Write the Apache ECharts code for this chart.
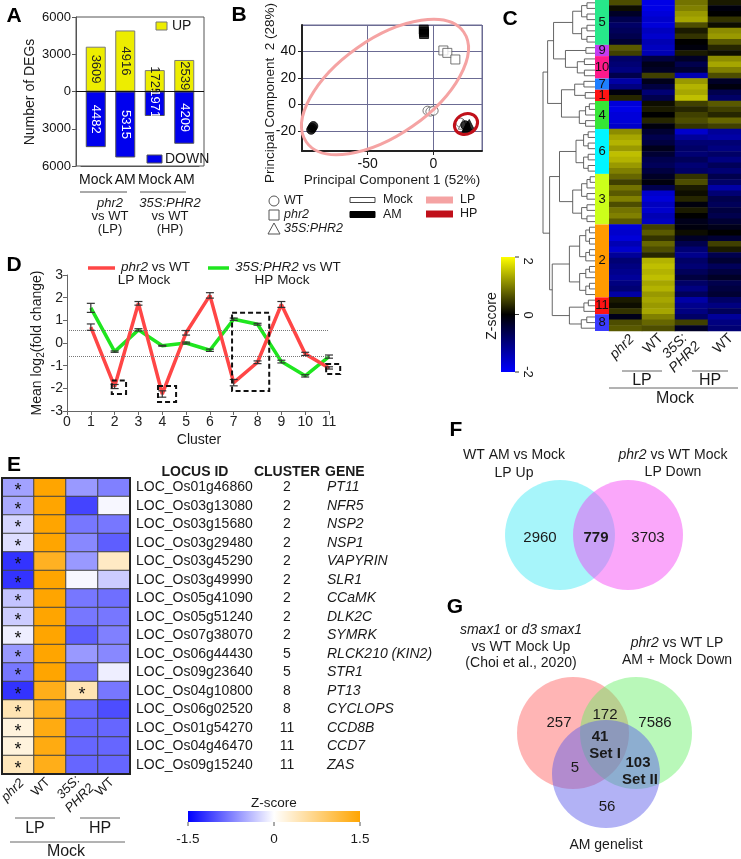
<!DOCTYPE html>
<html>
<head>
<meta charset="utf-8">
<script src="https://cdn.jsdelivr.net/npm/echarts@6.0.0/dist/echarts.min.js"></script>
<style>
html,body{margin:0;padding:0;background:#ffffff;}
#chart{width:741px;height:859px;}
</style>
</head>
<body>
<div id="chart"></div>
<script>
// ===== Panel A: number of DEGs =====
const degCategories = ['Mock', 'AM', 'Mock', 'AM'];
const degUp = [3609, 4916, 1725, 2539];
const degDown = [4482, 5315, 1971, 4209];

// ===== Panel B: PCA (PC1, PC2) =====
const pcaWTMock = [[-4.5, -4.6], [-2.3, -5.3], [0.2, -4.6], [20.5, -13.6]];
const pcaPhr2Mock = [[7.6, 40.8], [10.6, 39.0], [16.7, 34.0]];
const pcaOxMock = [[22.8, -14.8]];
const pcaWTAM = [[-93.0, -19.0], [-92.2, -17.6], [-91.4, -16.2], [24.3, -15.6]];
const pcaPhr2AM = [[-7.3, 56.5], [-7.2, 54.8], [-7.1, 53.2]];
const pcaOxAM = [[26.0, -16.6], [27.3, -15.0], [25.2, -17.6]];

// ===== Panel C: clustered heatmap (phr2 LP, WT LP, 35S:PHR2 HP, WT HP) =====
const clusterOrder = [5, 9, 10, 7, 1, 4, 6, 3, 2, 11, 8];
const clusterColor = ['#27e88a', '#c43cf2', '#ff1a8c', '#1e7fff', '#ff1414', '#36e636', '#00f6ff', '#ccff1a', '#ff9a00', '#ff1414', '#3b3bff'];
const clusterTopH = [0.55, 0.35, 0.48, 0.38, 0.36, 0.45, 0.50, 0.55, 0.60, 0.38, 0.42];
const hmC5 = [[0.6,-1.8,0.9,0.2],[0.1,-1.8,1.0,-0.1],[-0.3,-1.7,1.2,0.0],[-0.6,-1.6,1.3,0.4],[-0.8,-1.7,0.6,0.1],[-0.7,-1.5,0.2,1.1],[-0.6,-1.6,0.4,1.2],[-0.4,-1.4,0.0,0.7]];
const hmC9 = [[0.7,-1.5,-0.1,0.3],[0.5,-1.4,0.2,0.1]];
const hmC10 = [[-0.8,-0.5,-0.3,1.1],[-0.9,-0.2,-0.6,1.3],[-1.0,-0.3,-0.4,1.0],[-0.6,0.5,-1.4,0.6]];
const hmC7 = [[-1.3,-0.2,1.2,-0.3],[-1.0,-0.5,1.4,-0.1]];
const hmC1 = [[-0.1,-0.9,1.3,-0.6],[0.3,-0.6,1.5,-0.8]];
const hmC4 = [[-1.7,0.1,0.5,0.7],[-1.8,0.2,0.3,0.5],[-1.7,0.0,0.5,0.3],[-1.7,0.3,0.6,0.8],[-1.6,-0.1,0.4,0.5]];
const hmC6 = [[1.1,-0.4,-1.6,-1.2],[1.3,-0.6,-1.2,-1.3],[1.4,-0.5,-0.9,-0.9],[1.2,-0.2,-0.8,-1.0],[1.5,-0.4,-0.9,-0.8],[1.4,-0.6,-0.7,-1.0],[1.2,-0.7,-0.9,-0.7],[1.0,-0.5,-0.8,-0.9]];
const hmC3 = [[0.8,-0.3,0.4,-0.6],[0.5,-0.1,0.6,-0.8],[0.9,-0.6,0.2,-1.3],[0.7,-1.6,0.1,-0.9],[1.0,-1.7,0.3,-0.6],[0.6,-1.5,-0.1,-0.7],[0.9,-1.6,0.2,-0.5],[1.0,-1.4,0.0,-0.6],[0.7,-1.5,-0.2,-0.4]];
const hmC2 = [[-1.7,0.5,-0.1,-0.2],[-1.6,0.7,0.1,0.0],[-1.7,0.4,-0.3,-0.4],[-1.4,0.8,-0.6,0.5],[-1.6,0.6,-0.9,0.2],[-1.2,0.3,-1.1,-0.6],[-0.9,1.4,-0.8,-0.4],[-1.0,1.5,-0.9,-0.7],[-1.1,1.4,-0.7,-0.5],[-1.2,1.5,-0.5,-0.3],[-1.0,1.3,-0.8,-0.6],[-0.9,1.4,-1.0,-0.5],[-1.3,1.2,-0.7,-0.4]];
const hmC11 = [[0.2,1.3,-1.3,-0.8],[0.1,1.2,-1.1,-1.0],[0.4,1.3,-1.0,-0.7]];
const hmC8 = [[-0.2,1.0,-0.8,-1.2],[0.6,0.8,0.5,-1.0],[0.7,0.6,-0.3,-0.9]];
const hmClusterRows = [hmC5, hmC9, hmC10, hmC7, hmC1, hmC4, hmC6, hmC3, hmC2, hmC11, hmC8];
// dendrogram topology between clusters: [height, left, right]
const dendroTopology = [1.0, [0.93, [0.84, 5, [0.66, 9, 10]], [0.72, [0.52, 7, 1], 4]], [0.9, [0.75, 6, 3], [0.86, 2, [0.6, 11, 8]]]];

// ===== Panel D: mean log2 fold change per cluster =====
const dClusters = [1, 2, 3, 4, 5, 6, 7, 8, 9, 10, 11];
const dPhr2 = [0.70, -1.92, 1.75, -2.25, 0.45, 2.10, -1.75, -0.85, 1.70, -0.48, -1.10];
const dPhr2Err = [0.14, 0.09, 0.08, 0.14, 0.10, 0.12, 0.14, 0.06, 0.13, 0.07, 0.05];
const dOx = [1.55, -0.38, 0.58, -0.12, 0.00, -0.32, 1.05, 0.83, -0.82, -1.45, -0.60];
const dOxErr = [0.20, 0.03, 0.05, 0.02, 0.04, 0.05, 0.05, 0.04, 0.06, 0.05, 0.07];
const dThresholds = [0.585, -0.585];
const dBoxes = [[1.88, -1.65, 2.48, -2.25], [3.82, -1.90, 4.58, -2.60], [6.93, 1.33, 8.49, -2.12], [10.88, -0.93, 11.47, -1.37]];

// ===== Panel E: symbiosis genes =====
const eLocus = ['LOC_Os01g46860','LOC_Os03g13080','LOC_Os03g15680','LOC_Os03g29480','LOC_Os03g45290','LOC_Os03g49990','LOC_Os05g41090','LOC_Os05g51240','LOC_Os07g38070','LOC_Os06g44430','LOC_Os09g23640','LOC_Os04g10800','LOC_Os06g02520','LOC_Os01g54270','LOC_Os04g46470','LOC_Os09g15240'];
const eCluster = [2, 2, 2, 2, 2, 2, 2, 2, 2, 5, 5, 8, 8, 11, 11, 11];
const eGene = ['PT11','NFR5','NSP2','NSP1','VAPYRIN','SLR1','CCaMK','DLK2C','SYMRK','RLCK210 (KIN2)','STR1','PT13','CYCLOPS','CCD8B','CCD7','ZAS'];
const eZphr2 = [-0.55, -0.50, -0.25, -0.20, -1.20, -1.20, -0.35, -0.30, -0.10, -0.60, -0.80, -1.20, 0.45, 0.20, 0.20, 0.40];
const eZwtLP = [1.50, 1.50, 1.50, 1.50, 1.30, 1.50, 1.50, 1.50, 1.50, 1.50, 1.50, 1.35, 1.35, 1.40, 1.40, 1.35];
const eZox = [-0.60, -1.10, -0.80, -0.70, -0.60, -0.05, -0.80, -0.80, -0.95, -0.60, -0.80, 0.45, -0.90, -0.90, -0.90, -0.90];
const eZwtHP = [-0.75, -0.05, -0.80, -0.95, 0.35, -0.30, -0.85, -0.80, -0.75, -0.70, -0.10, -0.80, -1.05, -0.90, -0.90, -0.90];
const eStarPhr2 = [1, 1, 1, 1, 1, 1, 1, 1, 1, 1, 1, 1, 1, 1, 1, 1];
const eStarOx = [0, 0, 0, 0, 0, 0, 0, 0, 0, 0, 0, 1, 0, 0, 0, 0];

// ===== Panels F, G: Venn counts =====
const vennF = [2960, 779, 3703];
const vennG = { smaxOnly: 257, smaxPhr2: 172, phr2Only: 7586, all3: 41, smaxAM: 5, phr2AM: 103, amOnly: 56 };

// ----------------------------------------------------------------
const FF = '"Liberation Sans", Arial, Helvetica, sans-serif';
const TXT = '#1a1a1a';

function richSet(size) {
  return {
    i: { fontStyle: 'italic', fontSize: size, fontFamily: FF, fill: TXT },
    b: { fontWeight: 'bold', fontSize: size, fontFamily: FF, fill: TXT },
    n: { fontSize: size, fontFamily: FF, fill: TXT },
    s: { fontSize: Math.round(size * 0.68), fontFamily: FF, fill: TXT, padding: [8, 0, 0, 0] }
  };
}
function T(x, y, text, o) {
  o = o || {};
  const size = o.size || 14;
  return {
    type: 'text', x: x, y: y, rotation: o.rot || 0, z: 100, silent: true,
    style: {
      text: text, fill: o.color || TXT, fontSize: size, fontFamily: FF,
      fontWeight: o.bold ? 'bold' : 'normal', fontStyle: o.italic ? 'italic' : 'normal',
      align: o.align || 'center', verticalAlign: o.va || 'middle',
      textAlign: o.align || 'center', textVerticalAlign: o.va || 'middle',
      rich: richSet(size)
    }
  };
}
function L(x1, y1, x2, y2, color, w) {
  return { type: 'line', z: 100, silent: true, shape: { x1: x1, y1: y1, x2: x2, y2: y2 }, style: { stroke: color || '#555', lineWidth: w || 1 } };
}
function R(x, y, w, h, fill, stroke, lw, z) {
  return { type: 'rect', z: z || 100, silent: true, shape: { x: x, y: y, width: w, height: h }, style: { fill: fill || 'none', stroke: stroke || 'none', lineWidth: lw || 1 } };
}
function CIRC(cx, cy, r, fill, z) {
  return { type: 'circle', z: z || 1, silent: true, shape: { cx: cx, cy: cy, r: r }, style: { fill: fill } };
}

// ---- Build heatmap C data and dendrogram ----
const LEAF_H = 14 / 66;
const hmCData = [];
const clusterRange = [];
let rowCursor = 0;
hmClusterRows.forEach(function (rows, k) {
  const lo = rowCursor;
  rows.forEach(function (r) {
    r.forEach(function (v, c) { hmCData.push([c, rowCursor, v]); });
    rowCursor++;
  });
  clusterRange.push([LEAF_H, lo, rowCursor - 1, k]);
});
const hmCRowsLabels = [];
for (let i = 0; i < rowCursor; i++) hmCRowsLabels.push(String(i));

const dendroLinks = [];
function buildSub(lo, hi, top) {
  if (lo === hi) return { y: lo, h: LEAF_H };
  const mid = Math.floor((lo + hi) / 2);
  const childTop = LEAF_H + (top - LEAF_H) * 0.6;
  const a = buildSub(lo, mid, childTop), b = buildSub(mid + 1, hi, childTop);
  dendroLinks.push([top, a.y, b.y, a.h, b.h]);
  return { y: (a.y + b.y) / 2, h: top };
}
function walk(node) {
  if (typeof node === 'number') {
    const k = clusterOrder.indexOf(node);
    const rg = clusterRange[k];
    return buildSub(rg[1], rg[2], clusterTopH[k]);
  }
  const a = walk(node[1]), b = walk(node[2]);
  dendroLinks.push([node[0], a.y, b.y, a.h, b.h]);
  return { y: (a.y + b.y) / 2, h: node[0] };
}
walk(dendroTopology);

// ---- Heatmap E data ----
const eCols = [eZphr2, eZwtLP, eZox, eZwtHP];
const hmEData = [];
eLocus.forEach(function (_, r) { eCols.forEach(function (col, c) { hmEData.push([c, r, col[r]]); }); });
const eRowLabels = eLocus.map(function (_, i) { return String(i); });

// ---- Series ----
const series = [];
// A
series.push({
  type: 'bar', name: 'UP', xAxisIndex: 0, yAxisIndex: 0, data: degUp, barWidth: 20, barGap: '-100%',
  itemStyle: { color: '#eded00', borderColor: '#7a7a7a', borderWidth: 1 },
  label: { show: true, position: 'inside', rotate: -90, color: '#222', fontSize: 13, fontFamily: FF }
});
series.push({
  type: 'bar', name: 'DOWN', xAxisIndex: 0, yAxisIndex: 0, data: degDown.map(function (v) { return -v; }), barWidth: 20, barGap: '-100%',
  itemStyle: { color: '#0000ee', borderColor: '#555', borderWidth: 1 },
  label: { show: true, position: 'inside', rotate: -90, color: '#fff', fontSize: 13, fontFamily: FF, formatter: function (p) { return String(-p.value); } }
});
// B
function sc(data, symbol, filled) {
  return {
    type: 'scatter', xAxisIndex: 1, yAxisIndex: 1, data: data, symbol: symbol, symbolSize: symbol === 'triangle' ? 10 : 9,
    itemStyle: filled ? { color: '#000', borderColor: '#000', borderWidth: 1 } : { color: '#fff', borderColor: '#555', borderWidth: 1 }
  };
}
series.push(sc(pcaWTMock, 'circle', false));
series.push(sc(pcaPhr2Mock, 'rect', false));
series.push(sc(pcaOxMock, 'triangle', false));
series.push(sc(pcaWTAM, 'circle', true));
series.push(sc(pcaPhr2AM, 'rect', true));
series.push(sc(pcaOxAM, 'triangle', true));
// C heatmap
const idxHeatC = series.length;
series.push({ type: 'heatmap', xAxisIndex: 2, yAxisIndex: 2, data: hmCData, progressive: 0, itemStyle: { borderWidth: 0 } });
// C dendrogram
series.push({
  type: 'custom', xAxisIndex: 3, yAxisIndex: 3, data: dendroLinks, silent: true,
  renderItem: function (params, api) {
    const h = api.value(0), y1 = api.value(1), y2 = api.value(2), h1 = api.value(3), h2 = api.value(4);
    const a = api.coord([h1, y1]), b = api.coord([h, y1]), c = api.coord([h, y2]), d = api.coord([h2, y2]);
    return { type: 'polyline', shape: { points: [a, b, c, d] }, style: { stroke: '#555', lineWidth: 0.9, fill: 'none' } };
  }
});
// C cluster strip
series.push({
  type: 'custom', xAxisIndex: 3, yAxisIndex: 3, data: clusterRange, silent: true,
  renderItem: function (params, api) {
    const lo = api.value(1), hi = api.value(2), k = api.value(3);
    const p0 = api.coord([LEAF_H, lo - 0.5]), p1 = api.coord([0, hi + 0.5]);
    return {
      type: 'group', children: [
        { type: 'rect', shape: { x: p0[0], y: p0[1], width: p1[0] - p0[0], height: p1[1] - p0[1] }, style: { fill: clusterColor[k] } },
        { type: 'text', x: (p0[0] + p1[0]) / 2, y: (p0[1] + p1[1]) / 2, style: { text: String(clusterOrder[k]), fill: '#111', fontSize: 13, fontFamily: FF, align: 'center', verticalAlign: 'middle' } }
      ]
    };
  }
});
// D lines
series.push({
  type: 'line', xAxisIndex: 4, yAxisIndex: 4, data: dClusters.map(function (c, i) { return [c, dOx[i]]; }),
  symbol: 'none', lineStyle: { color: '#1fe61f', width: 3.5 }, z: 3
});
series.push({
  type: 'line', xAxisIndex: 4, yAxisIndex: 4, data: dClusters.map(function (c, i) { return [c, dPhr2[i]]; }),
  symbol: 'none', lineStyle: { color: '#ff4646', width: 3.5 }, z: 4,
  markLine: {
    silent: true, symbol: ['none', 'none'], label: { show: false },
    lineStyle: { type: 'dotted', color: '#777', width: 1 },
    data: dThresholds.map(function (t) { return { yAxis: t }; })
  }
});
// D error bars
const errData = [];
dClusters.forEach(function (c, i) {
  errData.push([c, dPhr2[i] - dPhr2Err[i], dPhr2[i] + dPhr2Err[i]]);
  errData.push([c, dOx[i] - dOxErr[i], dOx[i] + dOxErr[i]]);
});
series.push({
  type: 'custom', xAxisIndex: 4, yAxisIndex: 4, data: errData, silent: true, z: 6,
  renderItem: function (params, api) {
    const lo = api.coord([api.value(0), api.value(1)]), hi = api.coord([api.value(0), api.value(2)]);
    const w = 4;
    return {
      type: 'group', children: [
        { type: 'line', shape: { x1: lo[0], y1: lo[1], x2: hi[0], y2: hi[1] }, style: { stroke: '#333', lineWidth: 1.2 } },
        { type: 'line', shape: { x1: lo[0] - w, y1: lo[1], x2: lo[0] + w, y2: lo[1] }, style: { stroke: '#333', lineWidth: 1.2 } },
        { type: 'line', shape: { x1: hi[0] - w, y1: hi[1], x2: hi[0] + w, y2: hi[1] }, style: { stroke: '#333', lineWidth: 1.2 } }
      ]
    };
  }
});
// D dashed boxes
series.push({
  type: 'custom', xAxisIndex: 4, yAxisIndex: 4, data: dBoxes, silent: true, z: 7, clip: false,
  renderItem: function (params, api) {
    const a = api.coord([api.value(0), api.value(1)]), b = api.coord([api.value(2), api.value(3)]);
    return { type: 'rect', shape: { x: a[0], y: a[1], width: b[0] - a[0], height: b[1] - a[1] }, style: { fill: 'none', stroke: '#111', lineWidth: 2, lineDash: [5, 3] } };
  }
});
// E heatmap
const idxHeatE = series.length;
series.push({
  type: 'heatmap', xAxisIndex: 5, yAxisIndex: 5, data: hmEData, progressive: 0,
  itemStyle: { borderColor: '#444', borderWidth: 1 },
  label: {
    show: true, color: '#111', fontSize: 18, fontFamily: FF, offset: [0, 4],
    formatter: function (p) {
      const c = p.value[0], r = p.value[1];
      if (c === 0 && eStarPhr2[r]) return '*';
      if (c === 2 && eStarOx[r]) return '*';
      return '';
    }
  }
});

// ---- Graphic elements ----
const g = [];
// panel letters
[['A', 14, 16], ['B', 239, 15], ['C', 510, 19], ['D', 14, 265], ['E', 14, 465], ['F', 456, 430], ['G', 455, 607]].forEach(function (p) {
  g.push(T(p[1], p[2], p[0], { size: 21, bold: true, color: '#000' }));
});
// A
g.push(R(76, 17, 128, 149, 'none', '#555', 1));
g.push(L(76, 91.5, 204, 91.5, '#111', 1));
g.push(R(156, 22, 11, 8, '#eded00', '#777', 1));
g.push(T(172, 26, 'UP', { align: 'left', size: 14 }));
g.push(R(147, 155, 15, 8, '#0000ee', '#555', 1));
g.push(T(165, 159, 'DOWN', { align: 'left', size: 14 }));
g.push(T(30, 92, 'Number of DEGs', { rot: Math.PI / 2, size: 14 }));
g.push(L(80, 192, 127, 192, '#555'));
g.push(L(140, 192, 186, 192, '#555'));
g.push(T(110, 203, 'phr2', { italic: true, size: 13 }));
g.push(T(110, 216, 'vs WT', { size: 13 }));
g.push(T(110, 229, '(LP)', { size: 13 }));
g.push(T(170, 203, '35S:PHR2', { italic: true, size: 13 }));
g.push(T(170, 216, 'vs WT', { size: 13 }));
g.push(T(170, 229, '(HP)', { size: 13 }));
// B
g.push({ type: 'ellipse', x: 385, y: 87, rotation: 0.61, z: 50, silent: true, shape: { cx: 0, cy: 0, rx: 96, ry: 48 }, style: { fill: 'none', stroke: '#f5a3a3', lineWidth: 3 } });
g.push({ type: 'ellipse', x: 466, y: 124, rotation: 0.5, z: 50, silent: true, shape: { cx: 0, cy: 0, rx: 12, ry: 10 }, style: { fill: 'none', stroke: '#c0101a', lineWidth: 3 } });
g.push(T(392, 180, 'Principal Component 1 (52%)', { size: 13.5 }));
g.push(T(270, 93, 'Principal Component  2 (28%)', { rot: Math.PI / 2, size: 13.5 }));
g.push({ type: 'circle', z: 100, silent: true, shape: { cx: 274, cy: 201, r: 5 }, style: { fill: '#fff', stroke: '#555', lineWidth: 1 } });
g.push(T(284, 201, 'WT', { align: 'left', size: 12.5 }));
g.push(R(269, 210, 10, 10, '#fff', '#555', 1));
g.push(T(284, 215, 'phr2', { align: 'left', italic: true, size: 12.5 }));
g.push({ type: 'polygon', z: 100, silent: true, shape: { points: [[274, 223], [268, 234], [280, 234]] }, style: { fill: '#fff', stroke: '#555', lineWidth: 1 } });
g.push(T(284, 229, '35S:PHR2', { align: 'left', italic: true, size: 12.5 }));
g.push(R(350, 197.5, 25, 5, '#fff', '#444', 1));
g.push(T(383, 200, 'Mock', { align: 'left', size: 12.5 }));
g.push(R(350, 211.5, 25, 6, '#000', '#000', 1));
g.push(T(383, 215, 'AM', { align: 'left', size: 12.5 }));
g.push(R(426, 196.5, 27, 7, '#f5a3a3', 'none', 1));
g.push(T(460, 200, 'LP', { align: 'left', size: 12.5 }));
g.push(R(426, 210.5, 27, 7, '#c0101a', 'none', 1));
g.push(T(460, 214, 'HP', { align: 'left', size: 12.5 }));
// C colour bar
g.push({ type: 'rect', z: 100, silent: true, shape: { x: 501, y: 257, width: 14, height: 115 },
  style: { fill: { type: 'linear', x: 0, y: 0, x2: 0, y2: 1, colorStops: [{ offset: 0, color: '#ffff00' }, { offset: 0.5, color: '#000000' }, { offset: 1, color: '#0000ff' }] } } });
g.push(L(515, 257, 519, 257, '#333'));
g.push(L(515, 314.5, 519, 314.5, '#333'));
g.push(L(515, 372, 519, 372, '#333'));
g.push(T(528, 261, '2', { rot: -Math.PI / 2, size: 13 }));
g.push(T(528, 315, '0', { rot: -Math.PI / 2, size: 13 }));
g.push(T(528, 372, '-2', { rot: -Math.PI / 2, size: 13 }));
g.push(T(492, 316, 'Z-score', { rot: Math.PI / 2, size: 14 }));
// C column labels
const rot45 = Math.PI / 4;
g.push(T(632, 337, 'phr2', { rot: rot45, align: 'right', italic: true, size: 14 }));
g.push(T(661, 336, 'WT', { rot: rot45, align: 'right', size: 14 }));
g.push(T(685, 336, '35S:', { rot: rot45, align: 'right', italic: true, size: 14 }));
g.push(T(698, 344, 'PHR2', { rot: rot45, align: 'right', italic: true, size: 14 }));
g.push(T(731, 336, 'WT', { rot: rot45, align: 'right', size: 14 }));
g.push(L(622, 371, 662, 371, '#666'));
g.push(L(692, 371, 728, 371, '#666'));
g.push(L(609, 388, 738, 388, '#666'));
g.push(T(642, 381, 'LP', { size: 16 }));
g.push(T(710, 381, 'HP', { size: 16 }));
g.push(T(675, 399, 'Mock', { size: 16 }));
// D legend and titles
g.push(L(88, 268, 115, 268, '#ff4646', 3.5));
g.push(T(121, 267, '{i|phr2} vs WT', { align: 'left', size: 13.5 }));
g.push(T(144, 280, 'LP Mock', { size: 13.5 }));
g.push(L(208, 268, 229, 268, '#1fe61f', 3.5));
g.push(T(235, 267, '{i|35S:PHR2} vs WT', { align: 'left', size: 13.5 }));
g.push(T(282, 280, 'HP Mock', { size: 13.5 }));
g.push(T(37, 343, 'Mean log{s|2}(fold change)', { rot: Math.PI / 2, size: 14 }));
g.push(T(199, 440, 'Cluster', { size: 14 }));
// E
g.push(R(2, 478, 128, 296, 'none', '#222', 2, 120));
g.push(T(195, 472, 'LOCUS ID', { bold: true, size: 14 }));
g.push(T(287, 472, 'CLUSTER', { bold: true, size: 14 }));
g.push(T(325, 472, 'GENE', { bold: true, size: 14, align: 'left' }));
g.push(T(22, 781, 'phr2', { rot: rot45, align: 'right', italic: true, size: 13 }));
g.push(T(48, 780, 'WT', { rot: rot45, align: 'right', size: 13 }));
g.push(T(78, 778, '35S:', { rot: rot45, align: 'right', italic: true, size: 13 }));
g.push(T(92, 786, 'PHR2', { rot: rot45, align: 'right', italic: true, size: 13 }));
g.push(T(112, 780, 'WT', { rot: rot45, align: 'right', size: 13 }));
g.push(L(15, 818, 55, 818, '#666'));
g.push(L(80, 818, 120, 818, '#666'));
g.push(L(10, 842, 125, 842, '#666'));
g.push(T(35, 829, 'LP', { size: 16 }));
g.push(T(100, 829, 'HP', { size: 16 }));
g.push(T(66, 852, 'Mock', { size: 16 }));
g.push({ type: 'rect', z: 100, silent: true, shape: { x: 188, y: 811, width: 172, height: 11 },
  style: { fill: { type: 'linear', x: 0, y: 0, x2: 1, y2: 0, colorStops: [{ offset: 0, color: '#0000ff' }, { offset: 0.5, color: '#ffffff' }, { offset: 1, color: '#ffa500' }] } } });
g.push(L(188, 822, 188, 826, '#555'));
g.push(L(274, 822, 274, 826, '#555'));
g.push(L(360, 822, 360, 826, '#555'));
g.push(T(274, 803, 'Z-score', { size: 13.5 }));
g.push(T(188, 839, '-1.5', { size: 13.5 }));
g.push(T(274, 839, '0', { size: 13.5 }));
g.push(T(360, 839, '1.5', { size: 13.5 }));
// F
g.push(CIRC(560, 535, 55, 'rgba(60,232,244,0.45)', 1));
g.push(CIRC(628, 535, 55, 'rgba(245,60,245,0.45)', 2));
g.push(T(514, 455, 'WT AM vs Mock', { size: 14 }));
g.push(T(514, 473, 'LP Up', { size: 14 }));
g.push(T(673, 455, '{i|phr2} vs WT Mock', { size: 14 }));
g.push(T(673, 472, 'LP Down', { size: 14 }));
g.push(T(540, 538, String(vennF[0]), { size: 15 }));
g.push(T(596, 538, String(vennF[1]), { size: 15, bold: true }));
g.push(T(648, 538, String(vennF[2]), { size: 15 }));
// G
g.push(CIRC(573, 733, 56, 'rgba(255,90,90,0.45)', 1));
g.push(CIRC(636, 733, 56, 'rgba(100,240,100,0.45)', 2));
g.push(CIRC(606, 774, 54, 'rgba(95,95,235,0.48)', 3));
g.push(T(521, 630, '{i|smax1} or {i|d3 smax1}', { size: 14 }));
g.push(T(521, 647, 'vs WT Mock Up', { size: 14 }));
g.push(T(521, 663, '(Choi et al., 2020)', { size: 14 }));
g.push(T(677, 643, '{i|phr2} vs WT LP', { size: 14 }));
g.push(T(677, 660, 'AM + Mock Down', { size: 14 }));
g.push(T(559, 723, String(vennG.smaxOnly), { size: 15 }));
g.push(T(605, 715, String(vennG.smaxPhr2), { size: 15 }));
g.push(T(655, 723, String(vennG.phr2Only), { size: 15 }));
g.push(T(600, 737, String(vennG.all3), { size: 15, bold: true }));
g.push(T(605, 754, 'Set I', { size: 15, bold: true }));
g.push(T(575, 768, String(vennG.smaxAM), { size: 15 }));
g.push(T(638, 763, String(vennG.phr2AM), { size: 15, bold: true }));
g.push(T(640, 780, 'Set II', { size: 15, bold: true }));
g.push(T(607, 807, String(vennG.amOnly), { size: 15 }));
g.push(T(606, 845, 'AM genelist', { size: 14 }));

// ---- Axes ----
const hidden = { show: false };
const option = {
  animation: false,
  backgroundColor: '#ffffff',
  textStyle: { fontFamily: FF },
  grid: [
    { left: 81, width: 118, top: 17, height: 149 },
    { left: 302, width: 180, top: 25, height: 126, show: true, borderColor: '#6b6b93', borderWidth: 1 },
    { left: 609, width: 132, top: 0, height: 331 },
    { left: 543, width: 66, top: 0, height: 331 },
    { left: 67, width: 262, top: 275, height: 136 },
    { left: 2, width: 128, top: 478, height: 296 }
  ],
  xAxis: [
    { gridIndex: 0, type: 'category', data: degCategories,
      axisLine: { onZero: false, lineStyle: { color: '#555' } },
      axisTick: { alignWithLabel: true, length: 4, lineStyle: { color: '#555' } },
      axisLabel: { color: '#111', fontSize: 14, margin: 7, fontFamily: FF, interval: 0 } },
    { gridIndex: 1, type: 'value', min: -100, max: 37, interval: 50,
      axisLine: { onZero: false, lineStyle: { color: '#222', width: 2 } },
      axisTick: { show: true, length: 4, lineStyle: { color: '#222' } },
      axisLabel: { color: '#111', fontSize: 14, showMinLabel: false, showMaxLabel: false, margin: 6, fontFamily: FF },
      splitLine: { show: true, lineStyle: { color: '#6b6b93', width: 1 } } },
    { gridIndex: 2, type: 'category', data: ['phr2 LP', 'WT LP', '35S:PHR2 HP', 'WT HP'], show: false },
    { gridIndex: 3, type: 'value', min: 0, max: 1, inverse: true, show: false },
    { gridIndex: 4, type: 'value', min: 0, max: 11, interval: 1,
      axisLine: { onZero: false, lineStyle: { color: '#666' } },
      axisTick: { length: 4, lineStyle: { color: '#666' } },
      axisLabel: { color: '#222', fontSize: 14, margin: 4, fontFamily: FF },
      splitLine: hidden },
    { gridIndex: 5, type: 'category', data: ['phr2 LP', 'WT LP', '35S:PHR2 HP', 'WT HP'], show: false }
  ],
  yAxis: [
    { gridIndex: 0, type: 'value', min: -6000, max: 6000, interval: 3000, offset: 5,
      axisLine: { show: true, lineStyle: { color: '#555' } },
      axisTick: { show: true, length: 4, lineStyle: { color: '#555' } },
      axisLabel: { color: '#111', fontSize: 13, margin: 5, fontFamily: FF, formatter: function (v) { return String(Math.abs(v)); } },
      splitLine: hidden },
    { gridIndex: 1, type: 'value', min: -35, max: 60, splitNumber: 5,
      axisLine: { show: true, onZero: false, lineStyle: { color: '#222', width: 2 } },
      axisTick: { show: true, length: 4, lineStyle: { color: '#222' } },
      axisLabel: { color: '#111', fontSize: 14, showMinLabel: false, showMaxLabel: false, margin: 6, fontFamily: FF },
      splitLine: { show: true, lineStyle: { color: '#6b6b93', width: 1 } } },
    { gridIndex: 2, type: 'category', data: hmCRowsLabels, inverse: true, show: false },
    { gridIndex: 3, type: 'value', min: -0.5, max: hmCRowsLabels.length - 0.5, inverse: true, show: false },
    { gridIndex: 4, type: 'value', min: -3, max: 3, interval: 1,
      axisLine: { show: true, onZero: false, lineStyle: { color: '#666' } },
      axisTick: { show: true, length: 4, lineStyle: { color: '#666' } },
      axisLabel: { color: '#222', fontSize: 14, margin: 4, fontFamily: FF },
      splitLine: hidden },
    { gridIndex: 5, type: 'category', data: eRowLabels, inverse: true, position: 'right',
      axisLine: hidden, axisTick: hidden,
      axisLabel: {
        margin: 6, fontFamily: FF, interval: 0,
        formatter: function (v, i) { return '{a|' + eLocus[i] + '}{b|' + eCluster[i] + '}{c|' + eGene[i] + '}'; },
        rich: {
          a: { width: 116, align: 'left', fontSize: 14, color: '#1a1a1a', fontFamily: FF },
          b: { width: 70, align: 'center', fontSize: 14, color: '#1a1a1a', fontFamily: FF },
          c: { fontSize: 14, fontStyle: 'italic', color: '#1a1a1a', fontFamily: FF, padding: [0, 0, 0, 5] }
        }
      } }
  ],
  visualMap: [
    { show: false, type: 'continuous', seriesIndex: idxHeatC, min: -2, max: 2, inRange: { color: ['#0000ff', '#000000', '#ffff00'] } },
    { show: false, type: 'continuous', seriesIndex: idxHeatE, min: -1.5, max: 1.5, inRange: { color: ['#0000ff', '#ffffff', '#ffa500'] } }
  ],
  series: series,
  graphic: { elements: g }
};

const chart = echarts.init(document.getElementById('chart'), null, { renderer: 'canvas', width: 741, height: 859 });
chart.setOption(option);
</script>
</body>
</html>
